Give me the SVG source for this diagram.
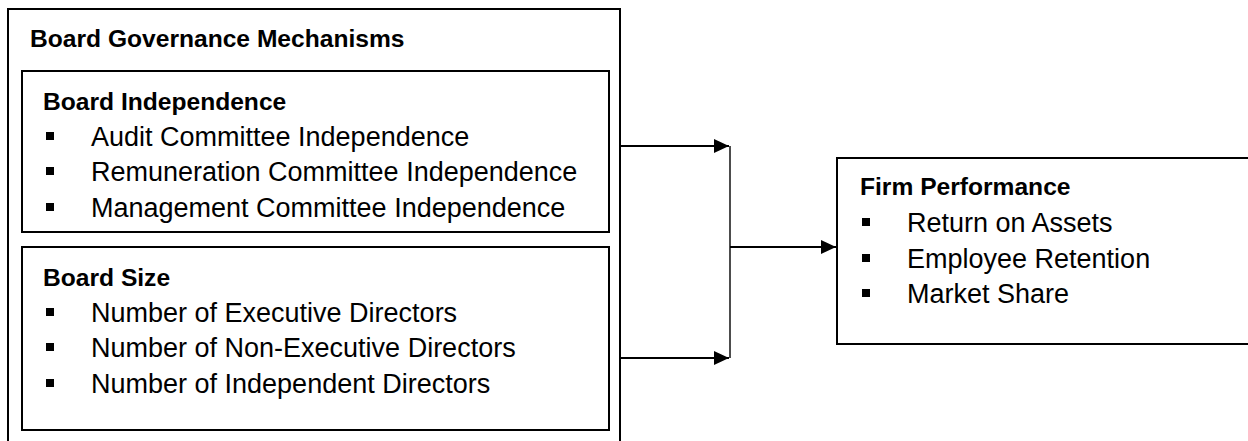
<svg xmlns="http://www.w3.org/2000/svg" width="1248" height="441" viewBox="0 0 1248 441">
<defs>
<marker id="ah" markerWidth="15" markerHeight="14" refX="15" refY="7" orient="auto" markerUnits="userSpaceOnUse">
<path d="M0,0 L15,7 L0,14 Z" fill="#000"/>
</marker>
<style>
.box{fill:#fff;stroke:#000;stroke-width:2}
.t{font-family:"Liberation Sans",Arial,sans-serif;font-size:27px;fill:#000}
.h{font-family:"Liberation Sans",Arial,sans-serif;font-size:24.6px;font-weight:bold;fill:#000}
.b{fill:#000}
.c{stroke:#000;stroke-width:2;fill:none}
</style>
</defs>
<rect width="1248" height="441" fill="#fff"/>
<g id="board-governance">
<path d="M8,442 L8,9 L620,9 L620,442" class="box"/>
<text x="30" y="47" class="h">Board Governance Mechanisms</text>
</g>
<g id="board-independence">
<rect x="22" y="71" width="587" height="161" class="box"/>
<text x="43" y="110" class="h">Board Independence</text>
<rect x="46" y="132" width="8" height="8" class="b"/>
<text x="91" y="146" class="t">Audit Committee Independence</text>
<rect x="46" y="167" width="8" height="8" class="b"/>
<text x="91" y="181" class="t">Remuneration Committee Independence</text>
<rect x="46" y="203" width="8" height="8" class="b"/>
<text x="91" y="217" class="t">Management Committee Independence</text>
</g>
<g id="board-size">
<rect x="22" y="247" width="587" height="183" class="box"/>
<text x="43" y="286" class="h">Board Size</text>
<rect x="46" y="308" width="8" height="8" class="b"/>
<text x="91" y="322" class="t">Number of Executive Directors</text>
<rect x="46" y="343" width="8" height="8" class="b"/>
<text x="91" y="357" class="t">Number of Non-Executive Directors</text>
<rect x="46" y="379" width="8" height="8" class="b"/>
<text x="91" y="393" class="t">Number of Independent Directors</text>
</g>
<g id="firm-performance">
<rect x="837" y="158" width="420" height="186" class="box"/>
<text x="860" y="195" class="h">Firm Performance</text>
<rect x="862" y="218" width="8" height="8" class="b"/>
<text x="907" y="232" class="t">Return on Assets</text>
<rect x="862" y="254" width="8" height="8" class="b"/>
<text x="907" y="268" class="t">Employee Retention</text>
<rect x="862" y="289" width="8" height="8" class="b"/>
<text x="907" y="303" class="t">Market Share</text>
</g>
<g id="connectors">
<line x1="621" y1="146" x2="729" y2="146" class="c" marker-end="url(#ah)"/>
<line x1="621" y1="358" x2="729" y2="358" class="c" marker-end="url(#ah)"/>
<line x1="730" y1="146" x2="730" y2="358" stroke="#000" stroke-width="1.4"/>
<line x1="730" y1="247" x2="836" y2="247" class="c" marker-end="url(#ah)"/>
</g>
</svg>
